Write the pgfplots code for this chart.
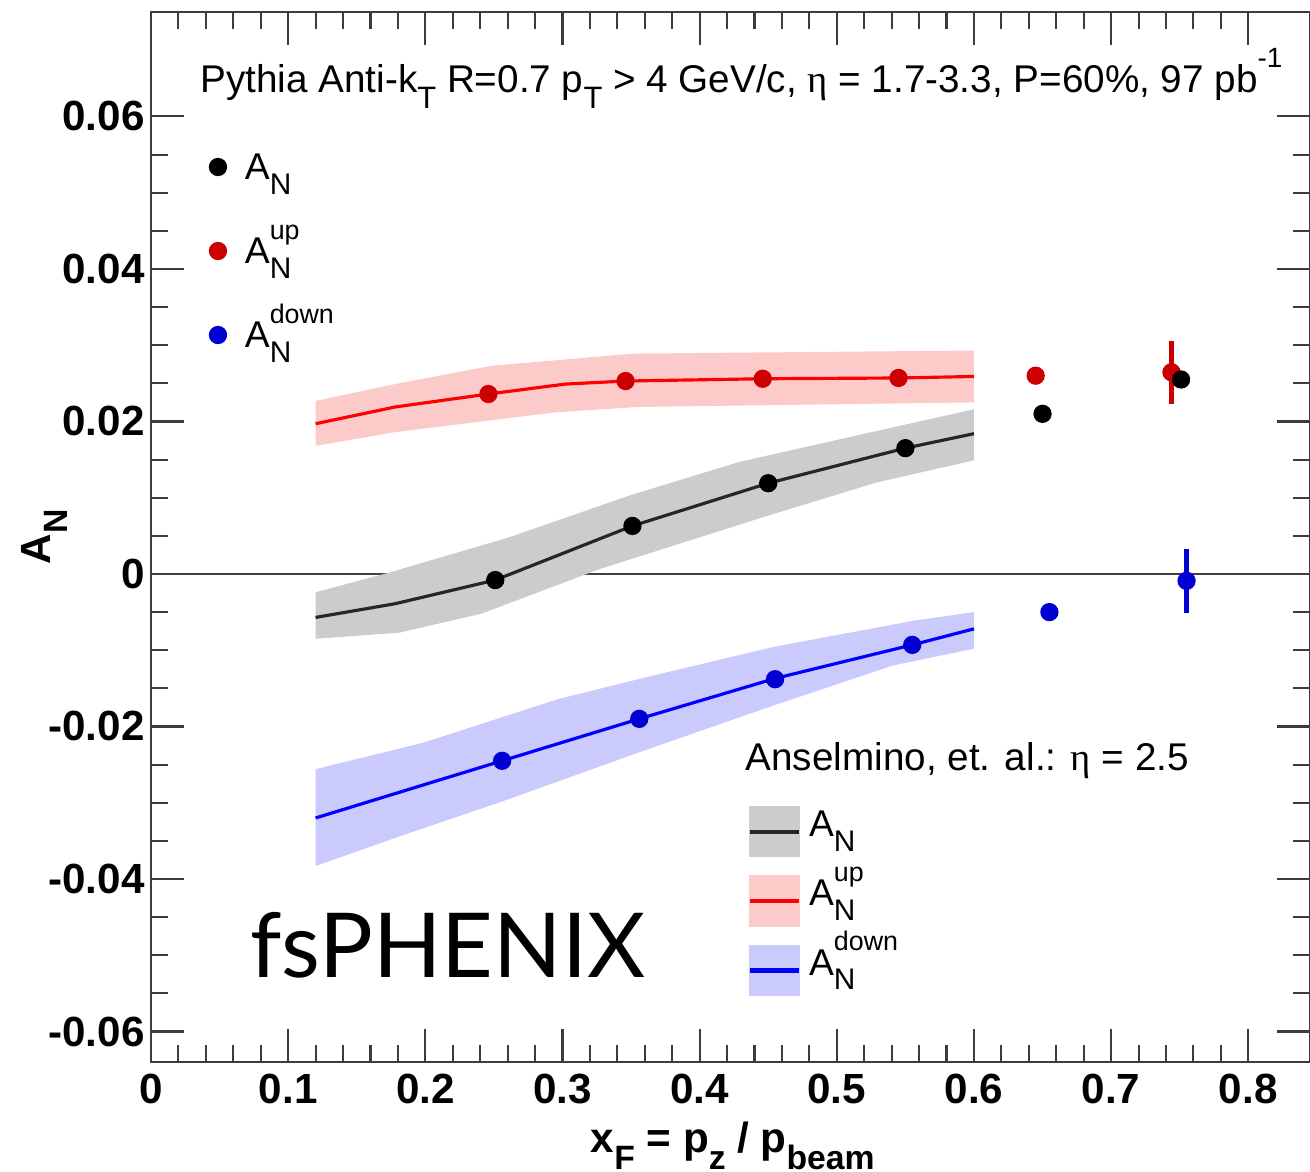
\documentclass[border=0pt]{standalone}
\usepackage{fontspec}
\setmainfont{Liberation Sans}
\newfontfamily\greekfont{Liberation Serif}
\newfontfamily\gillfont{Lato}
\usepackage{graphicx}
\usepackage{pgfplots}
\pgfplotsset{compat=1.18}

\definecolor{bandgray}{RGB}{204,204,204}
\definecolor{bandred}{RGB}{253,202,202}
\definecolor{bandblue}{RGB}{202,202,253}
\definecolor{ptred}{RGB}{204,0,0}
\definecolor{ptblue}{RGB}{0,0,210}
\definecolor{linered}{RGB}{255,0,0}
\definecolor{lineblue}{RGB}{0,0,255}
\definecolor{frame}{RGB}{60,60,60}

% ROOT-like sub/superscripts in the text font
\newcommand{\sub}[1]{\raisebox{-0.4em}{\scalebox{0.8}{#1}}}
\newcommand{\sups}[1]{\raisebox{0.65em}{\scalebox{0.72}{#1}}}
\newcommand{\subsup}[2]{\makebox[0pt][l]{\sups{#2}}\sub{#1}}
\newcommand{\etaT}{{\greekfont η}}

\begin{document}
\begin{tikzpicture}
\pgfplotsset{
  common/.style={
    width=115.9mm, height=105mm, scale only axis,
    xmin=0, xmax=0.845, ymin=-0.064, ymax=0.0737,
  },
}
\begin{axis}[
  common, name=main,
  xtick={0,0.1,0.2,0.3,0.4,0.5,0.6,0.7,0.8},
  ytick={-0.06,-0.04,-0.02,0,0.02,0.04,0.06},
  minor x tick num=4, minor y tick num=3,
  tick align=inside,
  major tick length=3.3mm, minor tick length=1.7mm,
  tick style={line width=0.6pt, frame},
  axis line style={line width=0.7pt, frame},
  scaled ticks=false,
  /pgf/number format/assume math mode=true,
  ticklabel style={font=\fontsize{12}{14}\selectfont\bfseries},
  xticklabel style={/pgf/number format/fixed, /pgf/number format/precision=1},
  yticklabel style={/pgf/number format/fixed, /pgf/number format/precision=2, xshift=0.6mm},
  xlabel={x\sub{F} = p\sub{z} / p\sub{beam}},
  ylabel={A\sub{N}},
  xlabel style={font=\fontsize{12}{14}\selectfont\bfseries, at={(axis description cs:0.502,-0.086)}, anchor=base},
  ylabel style={font=\fontsize{12}{14}\selectfont\bfseries, at={(axis description cs:-0.092,0.5)}, anchor=center, rotate=0},
  legend style={draw=none, fill=none, inner sep=0pt, outer sep=0pt,
    at={(axis description cs:0.0505,0.8833)}, anchor=north west,
    row sep=1.9mm, column sep=1.85mm,
    font=\fontsize{10.6}{12}\selectfont,
    nodes={inner sep=0pt, text height=4.5mm, text depth=2mm}},
  legend cell align=left,
  reverse legend,
]
% zero line
\addplot[forget plot, line width=0.7pt, black!75] coordinates {(0,0) (0.845,0)};

% model bands (Anselmino et al.)
\addplot[forget plot, fill=bandgray, draw=none] coordinates {
  (0.12,-0.0024) (0.174,0.0002) (0.261,0.0048) (0.349,0.0103) (0.429,0.0147) (0.513,0.0181) (0.6,0.0216)
  (0.6,0.0149) (0.529,0.0120) (0.449,0.0076) (0.328,0.0007) (0.241,-0.0052) (0.181,-0.0077) (0.12,-0.0085)
} -- cycle;
\addplot[forget plot, fill=bandred, draw=none] coordinates {
  (0.12,0.0227) (0.178,0.0249) (0.248,0.0273) (0.352,0.0289) (0.6,0.0293)
  (0.6,0.0225) (0.355,0.0219) (0.295,0.0212) (0.178,0.0186) (0.12,0.0168)
} -- cycle;
\addplot[forget plot, fill=bandblue, draw=none] coordinates {
  (0.12,-0.0256) (0.199,-0.0221) (0.297,-0.0164) (0.362,-0.0135) (0.453,-0.0096) (0.557,-0.0061) (0.6,-0.0050)
  (0.6,-0.0098) (0.541,-0.0120) (0.453,-0.0173) (0.362,-0.0230) (0.255,-0.0299) (0.183,-0.0343) (0.12,-0.0383)
} -- cycle;

% model curves
\addplot[forget plot, line width=0.9pt, black!85] coordinates {
  (0.12,-0.0057) (0.178,-0.0039) (0.251,-0.0008) (0.351,0.0063) (0.45,0.0119) (0.55,0.0165) (0.6,0.0184)};
\addplot[forget plot, line width=0.9pt, linered] coordinates {
  (0.12,0.0197) (0.178,0.0219) (0.246,0.0236) (0.302,0.0249) (0.346,0.0253) (0.446,0.0256) (0.545,0.0257) (0.6,0.0259)};
\addplot[forget plot, line width=0.9pt, lineblue] coordinates {
  (0.12,-0.0320) (0.256,-0.0245) (0.356,-0.0190) (0.455,-0.0137) (0.555,-0.0093) (0.6,-0.0072)};

% Pythia points
\addplot[only marks, mark=*, mark size=2.4pt, ptblue,
  error bars/.cd, y dir=both, y explicit, error mark=none,
  error bar style={line width=1.2pt, ptblue}] coordinates {
  (0.256,-0.0245) (0.356,-0.0190) (0.455,-0.0138) (0.555,-0.0093)
  (0.655,-0.0050) +- (0,0.0004)
  (0.755,-0.0009) +- (0,0.0042)};
\addlegendentry{A\subsup{N}{down}}
\addplot[only marks, mark=*, mark size=2.4pt, ptred,
  error bars/.cd, y dir=both, y explicit, error mark=none,
  error bar style={line width=1.2pt, ptred}] coordinates {
  (0.246,0.0236) (0.346,0.0253) (0.446,0.0256) (0.545,0.0257)
  (0.645,0.0260) +- (0,0.0004)
  (0.744,0.02645) +- (0,0.0041)};
\addlegendentry{A\subsup{N}{up}}
\addplot[only marks, mark=*, mark size=2.4pt, black] coordinates {
  (0.251,-0.0008) (0.351,0.0063) (0.45,0.0119) (0.55,0.0165) (0.65,0.0210) (0.751,0.0255)};
\addlegendentry{A\sub{N}}

\node[anchor=base west, inner sep=0pt, font=\fontsize{11}{13}\selectfont] at (axis description cs:0.042,0.923)
  {Pythia Anti-k\sub{T} R=0.7 p\sub{T} > 4 GeV/c, \etaT{} = 1.7-3.3, P=60\%, 97 pb\sups{-1}};
\node[anchor=base west, inner sep=0pt, font=\fontsize{11}{13}\selectfont] at (axis description cs:0.5125,0.278)
  {Anselmino, et. al.: \etaT{} = 2.5};
\node[anchor=base west, inner sep=0pt, font=\gillfont\fontsize{25.5}{28}\selectfont] at (axis cs:0.072,-0.0529)
  {fsPHENIX};
\end{axis}

% second (invisible) axis carrying the model legend
\begin{axis}[
  common, hide axis,
  legend style={draw=none, fill=none, inner sep=0pt, outer sep=0pt,
    at={(axis description cs:0.515,0.2438)}, anchor=north west,
    row sep=1.8mm, column sep=0.8mm,
    font=\fontsize{10.6}{12}\selectfont,
    nodes={inner sep=0pt, text height=2.95mm, text depth=2.05mm}},
  legend cell align=left,
]
\addlegendimage{legend image code/.code={
  \fill[bandgray] (0mm,-2.5mm) rectangle (4.9mm,2.5mm);
  \draw[line width=1.2pt, black!85] (0mm,0mm) -- (4.9mm,0mm);}}
\addlegendentry{A\sub{N}}
\addlegendimage{legend image code/.code={
  \fill[bandred] (0mm,-2.5mm) rectangle (4.9mm,2.5mm);
  \draw[line width=1.2pt, linered] (0mm,0mm) -- (4.9mm,0mm);}}
\addlegendentry{A\subsup{N}{up}}
\addlegendimage{legend image code/.code={
  \fill[bandblue] (0mm,-2.5mm) rectangle (4.9mm,2.5mm);
  \draw[line width=1.2pt, lineblue] (0mm,0mm) -- (4.9mm,0mm);}}
\addlegendentry{A\subsup{N}{down}}
\end{axis}

% page = reference crop: 15.1 mm left of the frame, 11 mm below it
\pgfresetboundingbox
\path (main.south west) ++(-15.1mm,-11mm) rectangle ++(131mm,117.2mm);
\end{tikzpicture}
\end{document}
